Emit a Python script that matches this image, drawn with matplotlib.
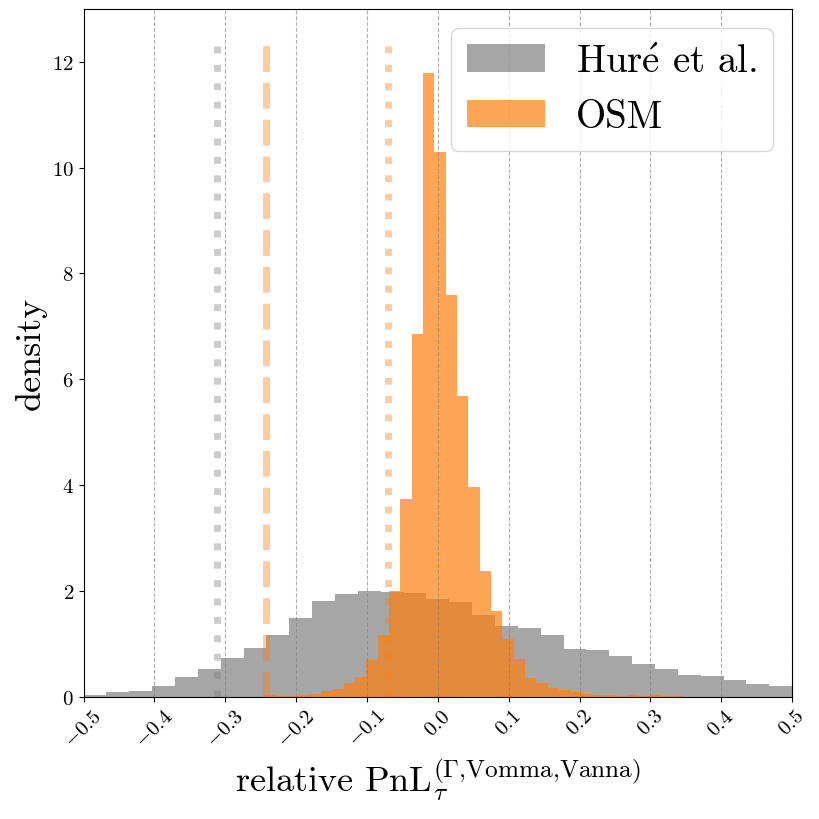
"""
Histogram comparison of relative PnL densities (Huré et al. vs OSM).
"""
import numpy as np
import matplotlib
matplotlib.use("Agg")
import matplotlib.pyplot as plt

# --- data ------------------------------------------------------------------
# Huré et al.: 31 bins over [-0.5, 0.5]
hure_edges = np.linspace(-0.5, 0.5, 32)
hure_density = [0.04, 0.09, 0.11, 0.20, 0.37, 0.52, 0.74, 0.93, 1.16, 1.48,
                1.82, 1.94, 2.00, 1.99, 1.97, 1.85, 1.80, 1.55, 1.33, 1.30,
                1.16, 0.91, 0.88, 0.78, 0.62, 0.52, 0.42, 0.40, 0.32, 0.25,
                0.21]

# OSM: narrower bins starting at about -0.245
osm_start = -0.245
osm_width = 0.016
osm_density = [0.03, 0.02, 0.02, 0.04, 0.06, 0.11, 0.15, 0.26, 0.37, 0.69,
               1.17, 2.00, 3.73, 6.86, 11.79, 10.29, 7.59, 5.68, 3.96, 2.38,
               1.63, 1.10, 0.72, 0.36, 0.26, 0.17, 0.12, 0.10, 0.06, 0.03,
               0.03, 0.02, 0.03, 0.02, 0.03, 0.02, 0.02]
osm_edges = osm_start + osm_width * np.arange(len(osm_density) + 1)

# quantile markers
hure_q = -0.312
osm_q_dashed = -0.242
osm_q_dotted = -0.071

xticks = [-0.5, -0.4, -0.3, -0.2, -0.1, 0.0, 0.1, 0.2, 0.3, 0.4, 0.5]
yticks = [0, 2, 4, 6, 8, 10, 12]

# --- style -----------------------------------------------------------------
plt.rcParams.update({
    "font.family": "serif",
    "font.serif": ["cmr10"],
    "mathtext.fontset": "cm",
    "axes.formatter.use_mathtext": True,
    "axes.unicode_minus": True,
})

fig = plt.figure(figsize=(8.2, 8.2), dpi=100)
ax = fig.add_axes([0.102, 0.149, 0.864, 0.839])

ax.bar(hure_edges[:-1], hure_density, width=np.diff(hure_edges), align="edge",
       color="grey", alpha=0.7, label=r"Hur$\mathrm{\acute{e}}$ et al.")
ax.bar(osm_edges[:-1], osm_density, width=np.diff(osm_edges), align="edge",
       color="tab:orange", alpha=0.7, label="OSM")

top = max(osm_density) * 1.05
ax.vlines(hure_q, 0, top, colors="grey", linestyles=":", lw=5, alpha=0.4)
ax.vlines(osm_q_dashed, 0, top, colors="tab:orange", linestyles="--", lw=5, alpha=0.4)
ax.vlines(osm_q_dotted, 0, top, colors="tab:orange", linestyles=":", lw=5, alpha=0.4)

ax.set_xlim(-0.5, 0.5)
ax.set_ylim(0, 13)
ax.set_xticks(xticks)
ax.set_yticks(yticks)
ax.tick_params(axis="x", labelsize=15, rotation=45)
ax.tick_params(axis="y", labelsize=15)
ax.xaxis.grid(True, linestyle="--", color="grey", alpha=0.6, lw=0.8)

ax.set_xlabel(r"relative PnL$_\tau^{(\Gamma{,}\mathrm{Vomma}{,}\mathrm{Vanna})}$",
              fontsize=26)
ax.set_ylabel("density", fontsize=26)
ax.legend(loc="upper right", fontsize=28)

fig.savefig("out.png", dpi=100)
